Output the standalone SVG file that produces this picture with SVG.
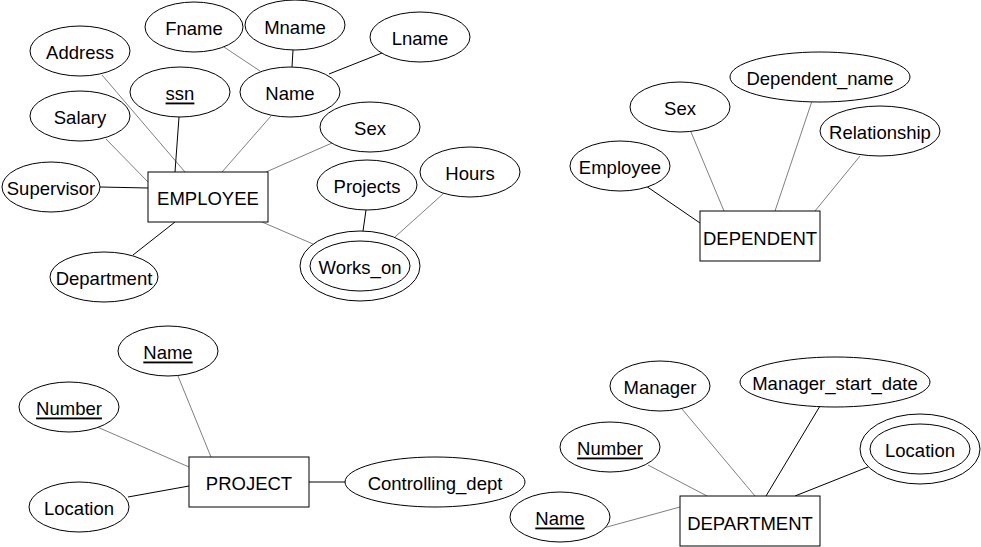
<svg xmlns="http://www.w3.org/2000/svg" width="981" height="547" viewBox="0 0 981 547">
<style>
.n ellipse, .n rect { fill: #ffffff; stroke: #000000; stroke-width: 1; }
.n text { font-family: "Liberation Sans", Arial, sans-serif; font-size: 18.5px; fill: #000000; text-anchor: middle; dominant-baseline: central; }
.u { text-decoration: underline; }
.c line { stroke-width: 1; }
.g { stroke: #808080; }
.k { stroke: #000000; }
</style>
<rect width="981" height="547" fill="#ffffff"/>
<g id="connectors" class="c">
  <line class="g" x1="102" y1="75" x2="185" y2="172"/>
  <line class="k" x1="179" y1="117" x2="175" y2="172"/>
  <line class="g" x1="271" y1="116" x2="222" y2="172"/>
  <line class="g" x1="106" y1="139" x2="148" y2="182"/>
  <line class="g" x1="332" y1="143" x2="266" y2="172"/>
  <line class="g" x1="224" y1="47" x2="260" y2="71"/>
  <line class="k" x1="293" y1="50" x2="292" y2="67"/>
  <line class="k" x1="382" y1="53" x2="329" y2="74"/>
  <line class="k" x1="100" y1="187" x2="148" y2="188"/>
  <line class="k" x1="133" y1="255" x2="175" y2="222"/>
  <line class="g" x1="262" y1="222" x2="313" y2="244"/>
  <line class="k" x1="366" y1="210" x2="363" y2="231"/>
  <line class="g" x1="444" y1="193" x2="395" y2="237"/>
  <line class="k" x1="646" y1="186" x2="700" y2="223"/>
  <line class="g" x1="691" y1="132" x2="724" y2="211"/>
  <line class="g" x1="812" y1="101" x2="775" y2="211"/>
  <line class="g" x1="860" y1="156" x2="815" y2="211"/>
  <line class="g" x1="178" y1="376" x2="211" y2="457"/>
  <line class="g" x1="95" y1="426" x2="189" y2="467"/>
  <line class="k" x1="128" y1="497" x2="189" y2="486"/>
  <line class="k" x1="309" y1="482" x2="345" y2="482"/>
  <line class="g" x1="682" y1="409" x2="755" y2="496"/>
  <line class="k" x1="820" y1="406" x2="766" y2="496"/>
  <line class="g" x1="648" y1="465" x2="707" y2="496"/>
  <line class="k" x1="868" y1="467" x2="795" y2="496"/>
  <line class="g" x1="585" y1="533" x2="680" y2="507"/>
</g>
<g id="employee" class="n"><rect x="148" y="172" width="120" height="50"/><text x="208" y="198">EMPLOYEE</text></g>
<g id="emp-address" class="n"><ellipse cx="80" cy="51" rx="50" ry="25"/><text x="80" y="52">Address</text></g>
<g id="emp-fname" class="n"><ellipse cx="194" cy="27" rx="49" ry="25"/><text x="194" y="28">Fname</text></g>
<g id="emp-mname" class="n"><ellipse cx="295" cy="25" rx="50" ry="25"/><text x="295" y="27">Mname</text></g>
<g id="emp-lname" class="n"><ellipse cx="420" cy="37" rx="50" ry="25"/><text x="420" y="38">Lname</text></g>
<g id="emp-ssn" class="n"><ellipse cx="180" cy="92" rx="50" ry="25"/><text class="u" x="180" y="93">ssn</text></g>
<g id="emp-name" class="n"><ellipse cx="290" cy="92" rx="50" ry="25"/><text x="290" y="93">Name</text></g>
<g id="emp-salary" class="n"><ellipse cx="80" cy="116" rx="50" ry="25"/><text x="80" y="117">Salary</text></g>
<g id="emp-sex" class="n"><ellipse cx="370" cy="127" rx="50" ry="25"/><text x="370" y="128">Sex</text></g>
<g id="emp-supervisor" class="n"><ellipse cx="51" cy="187" rx="49" ry="25"/><text x="51" y="188">Supervisor</text></g>
<g id="emp-department" class="n"><ellipse cx="104" cy="277" rx="54" ry="25"/><text x="104" y="278">Department</text></g>
<g id="emp-projects" class="n"><ellipse cx="367" cy="185" rx="50" ry="25"/><text x="367" y="186">Projects</text></g>
<g id="emp-hours" class="n"><ellipse cx="470" cy="172" rx="50" ry="25"/><text x="470" y="173">Hours</text></g>
<g id="emp-works-on" class="n"><ellipse cx="360" cy="266" rx="60" ry="35"/><ellipse cx="360" cy="266" rx="50" ry="25"/><text x="360" y="267">Works_on</text></g>
<g id="dependent" class="n"><rect x="700" y="211" width="120" height="50"/><text x="760" y="238">DEPENDENT</text></g>
<g id="dep-employee" class="n"><ellipse cx="620" cy="166" rx="50" ry="25"/><text x="620" y="167">Employee</text></g>
<g id="dep-sex" class="n"><ellipse cx="680" cy="107" rx="50" ry="25"/><text x="680" y="108">Sex</text></g>
<g id="dep-name" class="n"><ellipse cx="820" cy="77" rx="90" ry="25"/><text x="820" y="78">Dependent_name</text></g>
<g id="dep-relationship" class="n"><ellipse cx="880" cy="131" rx="60" ry="25"/><text x="880" y="132">Relationship</text></g>
<g id="project" class="n"><rect x="189" y="457" width="120" height="50"/><text x="249" y="483">PROJECT</text></g>
<g id="proj-name" class="n"><ellipse cx="168" cy="351" rx="50" ry="25"/><text class="u" x="168" y="352">Name</text></g>
<g id="proj-number" class="n"><ellipse cx="69" cy="407" rx="50" ry="25"/><text class="u" x="69" y="408">Number</text></g>
<g id="proj-location" class="n"><ellipse cx="79" cy="507" rx="50" ry="25"/><text x="79" y="508">Location</text></g>
<g id="proj-controlling" class="n"><ellipse cx="435" cy="482" rx="90" ry="25"/><text x="435" y="483">Controlling_dept</text></g>
<g id="department" class="n"><rect x="680" y="496" width="140" height="50"/><text x="750" y="523">DEPARTMENT</text></g>
<g id="dept-manager" class="n"><ellipse cx="660" cy="386" rx="50" ry="25"/><text x="660" y="387">Manager</text></g>
<g id="dept-start" class="n"><ellipse cx="835" cy="382" rx="95" ry="25"/><text x="835" y="383">Manager_start_date</text></g>
<g id="dept-number" class="n"><ellipse cx="610" cy="447" rx="50" ry="25"/><text class="u" x="610" y="448">Number</text></g>
<g id="dept-location" class="n"><ellipse cx="920" cy="449" rx="60" ry="35"/><ellipse cx="920" cy="449" rx="50" ry="25"/><text x="920" y="450">Location</text></g>
<g id="dept-name" class="n"><ellipse cx="560" cy="517" rx="50" ry="25"/><text class="u" x="560" y="518">Name</text></g>
</svg>
